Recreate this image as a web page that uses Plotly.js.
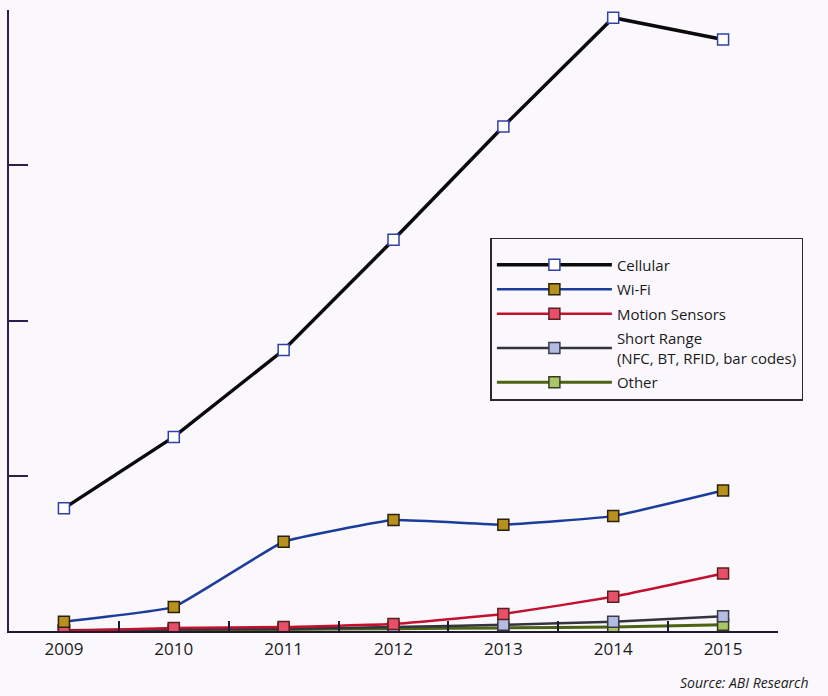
<!DOCTYPE html>
<html>
<head>
<meta charset="utf-8">
<script src="https://cdn.plot.ly/plotly-3.0.1.min.js"></script>
<style>
html,body{margin:0;padding:0;background:#faf8fc;}
#chart{width:828px;height:696px;}
</style>
</head>
<body>
<div id="chart"></div>
<script>
const years = ["2009","2010","2011","2012","2013","2014","2015"];
const cellular = [79, 125, 181, 252, 325, 395, 381];
const wifi = [6, 15.5, 57.5, 71.5, 68.5, 74, 90.5];
const motion = [0, 2, 2.6, 4.5, 11, 22, 37];
const shortRange = [0.5, 1, 1.5, 2.5, 4, 6, 9.5];
const other = [0.3, 0.6, 1, 1.5, 2, 2.6, 4];
const seriesNames = ["Cellular", "Wi-Fi", "Motion Sensors", "Short Range<br>(NFC, BT, RFID, bar codes)", "Other"];
const sourceText = "Source: ABI Research";

const FONT = "Open Sans, DejaVu Sans, sans-serif";

function tr(name, y, lineColor, lineWidth, fill, border, rank, shape) {
  return {
    x: years, y: y, name: name, type: "scatter", mode: "lines+markers",
    legendgroup: "g" + rank, legendrank: rank,
    line: {color: lineColor, width: lineWidth, shape: shape || "spline", smoothing: 0.3},
    marker: {symbol: "square", size: 11, color: fill, line: {color: border, width: 1.5}}
  };
}

const data = [
  tr(seriesNames[4], other, "#4d6314", 3, "#a8c868", "#3a3a20", 5),
  tr(seriesNames[3], shortRange, "#34343e", 2.5, "#b4bce4", "#3a3a48", 4),
  tr(seriesNames[2], motion, "#c4102e", 2.5, "#e8506a", "#5a2020", 3),
  tr(seriesNames[1], wifi, "#1c3c9c", 2.5, "#b8901c", "#2a2010", 2),
  tr(seriesNames[0], cellular, "#0a0a0a", 3.5, "#ffffff", "#3040a8", 1, "linear")
];

const layout = {
  width: 828, height: 696,
  paper_bgcolor: "#faf8fc", plot_bgcolor: "#faf8fc",
  margin: {l: 9, r: 50, t: 10, b: 65},
  font: {family: FONT, color: "#1a1a1a"},
  showlegend: true,
  legend: {
    x: 0.626, y: 0.633, xanchor: "left", yanchor: "top",
    traceorder: "grouped",
    bgcolor: "rgba(0,0,0,0)", bordercolor: "#2a2a2a", borderwidth: 1.5,
    font: {family: FONT, size: 15, color: "#1a1a1a"},
    title: {text: " ", font: {size: 7}},
    itemwidth: 115, entrywidth: 400, tracegroupgap: 2
  },
  xaxis: {
    type: "category", range: [-0.5, 6.5],
    showgrid: false, zeroline: false,
    showline: true, linecolor: "#1e1a30", linewidth: 2,
    ticks: "inside", tickson: "boundaries", ticklen: 10, tickwidth: 2, tickcolor: "#1e1a30",
    tickfont: {family: FONT, size: 17, color: "#1a1a1a"},
    ticklabelstandoff: 2
  },
  yaxis: {
    range: [0, 400], dtick: 100, tick0: 0,
    showgrid: false, zeroline: false,
    showline: true, linecolor: "#2a2050", linewidth: 2.5,
    ticks: "inside", ticklen: 19, tickwidth: 2, tickcolor: "#2a2050",
    showticklabels: false
  },
  annotations: [{
    text: "<i>" + sourceText + "</i>", xref: "paper", yref: "paper",
    x: 1.043, y: -0.083, xanchor: "right", yanchor: "middle", showarrow: false,
    font: {family: FONT, size: 14, color: "#1a1a1a"}
  }]
};

Plotly.newPlot("chart", data, layout, {displayModeBar: false, staticPlot: true});
</script>
</body>
</html>
